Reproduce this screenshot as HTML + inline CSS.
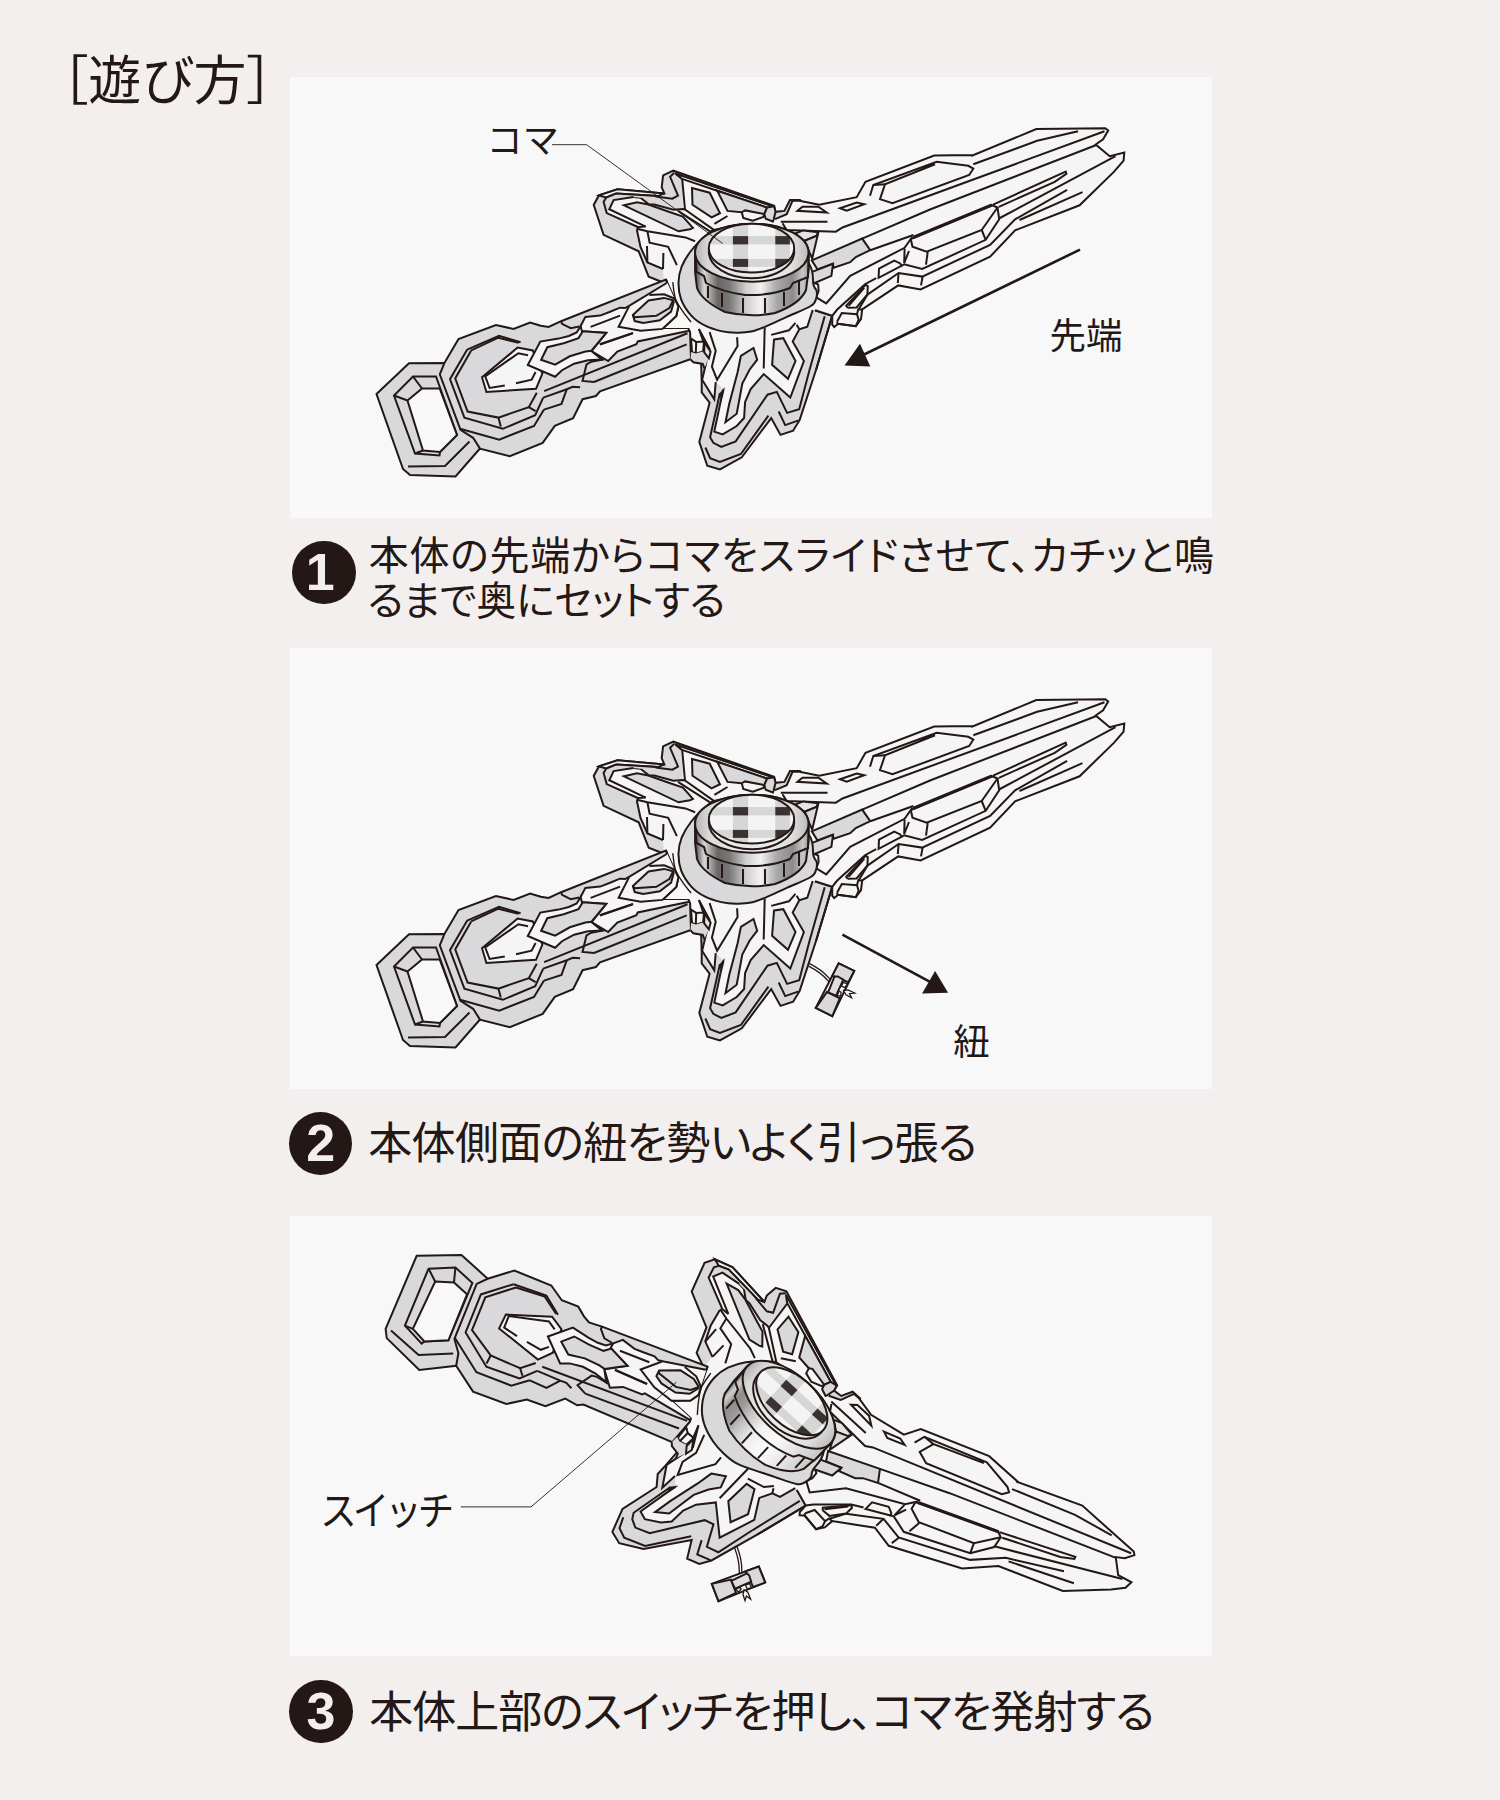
<!DOCTYPE html><html lang="ja"><head><meta charset="utf-8"><title>遊び方</title><style>
html,body{margin:0;padding:0;}
body{width:1500px;height:1800px;background:#f3efee;position:relative;overflow:hidden;
 font-family:"Liberation Sans","Noto Sans CJK JP",sans-serif;color:#231815;}
.panel{position:absolute;left:290px;width:922px;height:441px;background:#f8f8f8;}
#p1{top:77px}#p2{top:648px}#p3{top:1216px;height:440px}
svg{position:absolute;left:0;top:0;}
.t{position:absolute;white-space:nowrap;font-feature-settings:"palt";}
.title{left:61.3px;top:55.2px;font-size:53px;line-height:53px;letter-spacing:0.5px}
.num{position:absolute;width:63.4px;height:63.4px;border-radius:50%;background:#231815;color:#f3efee;
 font-family:"Liberation Sans",sans-serif;font-weight:bold;font-size:52px;line-height:63.4px;text-align:center;}
.c1{left:370.8px;font-size:40px;line-height:40px;}
.c2{left:370.5px;font-size:44px;line-height:44px;}
</style></head><body>
<div class="panel" id="p1"></div><div class="panel" id="p2"></div><div class="panel" id="p3"></div>
<div class="t title">［遊び方］</div>
<svg width="1500" height="1800" viewBox="0 0 1500 1800" stroke-linejoin="miter" stroke-linecap="butt">
<defs><g id="sword"><polygon points="662.1,282.0 648.7,276.8 638.7,251.3 603.6,234.8 593.7,204.9 598.9,195.4 617.5,189.3 664.3,193.4 661.7,187.1 663.1,175.4 673.3,170.7 774.1,205.7 775.5,211.8 784.4,210.9 790.0,200.1 800.0,200.0 850.0,260.0 832.2,315.8 816.0,370.0 799.7,419.9 793.1,430.7 780.5,434.9 771.2,418.1 741.8,457.3 719.9,469.4 707.3,465.7 699.3,441.9 709.6,402.7 701.7,392.4 701.7,381.6 701.2,363.9 708.7,358.3 704.0,343.3 698.9,328.9 684.0,318.0 670.0,298.0" fill="#d9d9db" stroke="none" stroke-width="2.0"/>
<polyline points="662.1,282.0 648.7,276.8 638.7,251.3 603.6,234.8 593.7,204.9 598.9,195.4 617.5,189.3 664.3,193.4 661.7,187.1 663.1,175.4 673.3,170.7 774.1,205.7 775.5,211.8 784.4,210.9 790.0,200.1 800.0,200.0 850.0,260.0 832.2,315.8 816.0,370.0 799.7,419.9 793.1,430.7 780.5,434.9 771.2,418.1 741.8,457.3 719.9,469.4 707.3,465.7 699.3,441.9 709.6,402.7 701.7,392.4 701.7,381.6 701.2,363.9 708.7,358.3 704.0,343.3 698.9,328.9" fill="none" stroke="#231815" stroke-width="2.0"/>
<polygon points="663.0,269.0 647.4,262.5 640.5,246.9 637.0,230.5 637.9,227.0 606.7,213.1 609.3,209.2 613.6,200.1 633.5,197.1 640.5,197.7 649.1,204.5 654.3,204.5 673.4,209.7 682.9,209.0 682.2,179.1 675.2,173.5 773.7,206.7 773.2,221.6 785.3,219.7 800.0,215.0 840.0,262.0 815.0,310.2 812.7,310.0 807.3,326.7 799.3,329.3 792.7,341.5 803.9,361.1 790.3,397.5 763.7,374.1 750.7,389.1 745.1,402.1 744.1,418.0 736.7,426.0 722.7,434.4 714.3,431.6 720.8,400.8 723.6,389.6 715.7,382.1 714.3,399.3 702.1,379.7 709.6,348.9 698.9,328.9 684.0,318.0 670.0,298.0 664.0,284.0" fill="#f5f5f5" stroke="none" stroke-width="2.0"/>
<polyline points="663.0,269.0 647.4,262.5 640.5,246.9 637.0,230.5 637.9,227.0" fill="none" stroke="#231815" stroke-width="2.0"/>
<polyline points="633.5,197.1 640.5,197.7 649.1,204.5 654.3,204.5 673.4,209.7 682.9,209.0 685.0,209.5 682.2,179.1 675.2,173.5 773.7,206.7" fill="none" stroke="#231815" stroke-width="2.0"/>
<polyline points="773.2,221.6 785.3,219.7" fill="none" stroke="#231815" stroke-width="2.0"/>
<polyline points="812.7,310.0 807.3,326.7 799.3,329.3 792.7,341.5 803.9,361.1 790.3,397.5 763.7,374.1 750.7,389.1 745.1,402.1 744.1,418.0 736.7,426.0 722.7,434.4 714.3,431.6 720.8,400.8 723.6,389.6" fill="none" stroke="#231815" stroke-width="2.0"/>
<polyline points="715.7,382.1 714.3,399.3 702.1,379.7 709.6,348.9 698.9,328.9" fill="none" stroke="#231815" stroke-width="2.0"/>
<polygon points="617.5,189.3 664.3,193.4 657.8,196.1 616.2,193.6 606.2,197.5 598.9,195.4" fill="#f5f5f5" stroke="#231815" stroke-width="2.0"/>
<polygon points="657.8,196.1 616.2,193.6 606.2,197.5 603.6,201.9 606.7,213.1 609.3,209.2 613.6,200.1 633.5,197.1 640.5,197.7" fill="#d9d9db" stroke="none" stroke-width="2.0"/>
<polyline points="657.8,196.1 616.2,193.6 606.2,197.5 603.6,201.9 606.7,213.1 637.9,227.0" fill="none" stroke="#231815" stroke-width="2.0"/>
<polyline points="633.5,197.1 613.6,200.1 609.3,209.2 645.7,226.6 637.9,227.0" fill="none" stroke="#231815" stroke-width="2.0"/>
<polygon points="624.0,205.3 637.0,202.3 648.3,204.5 671.7,212.7 682.9,216.6 692.9,227.9 689.9,229.2 678.6,231.3" fill="#d9d9db" stroke="#231815" stroke-width="2.0"/>
<polyline points="637.0,228.7 647.4,231.3 685.5,237.4 695.1,241.3" fill="none" stroke="#231815" stroke-width="2.0"/>
<polyline points="647.4,231.3 649.6,242.6 668.2,246.9 676.9,265.1" fill="none" stroke="#231815" stroke-width="2.0"/>
<polyline points="647.0,246.1 647.4,262.5" fill="none" stroke="#231815" stroke-width="2.0"/>
<polyline points="663.4,253.0 663.0,269.0" fill="none" stroke="#231815" stroke-width="2.0"/>
<polyline points="674.3,172.6 670.1,176.8 678.0,195.5 672.4,198.7 655.6,196.4" fill="none" stroke="#231815" stroke-width="2.0"/>
<polyline points="682.7,179.1 717.2,190.8 767.1,207.6" fill="none" stroke="#231815" stroke-width="2.0"/>
<polyline points="678.0,210.9 713.5,233.7" fill="none" stroke="#231815" stroke-width="2.0"/>
<polyline points="685.0,209.5 715.3,230.9" fill="none" stroke="#231815" stroke-width="2.0"/>
<polygon points="692.0,188.0 709.7,192.7 720.0,213.2 711.6,217.4 692.5,204.8" fill="#d9d9db" stroke="#231815" stroke-width="2.0"/>
<polygon points="717.2,190.8 767.1,207.6 764.3,214.1 745.2,210.4 741.5,212.3 727.5,210.9" fill="#d9d9db" stroke="#231815" stroke-width="2.0"/>
<polygon points="767.1,207.6 774.1,206.2 775.5,211.8 773.2,221.6 765.7,218.8 764.3,214.1" fill="#d9d9db" stroke="#231815" stroke-width="2.0"/>
<polyline points="741.9,212.7 743.3,217.9 752.7,220.7 763.4,216.9 764.3,214.1" fill="none" stroke="#231815" stroke-width="2.0"/>
<polyline points="727.5,216.0 714.4,223.9" fill="none" stroke="#231815" stroke-width="2.0"/>
<polyline points="719.9,393.3 710.1,437.2 713.3,442.8 721.3,447.0 735.7,441.4 767.5,394.7 776.8,391.9 787.1,412.9 799.2,409.2 809.5,370.0" fill="none" stroke="#231815" stroke-width="2.0"/>
<polyline points="809.5,370.0 824.7,316.3" fill="none" stroke="#231815" stroke-width="2.0"/>
<polyline points="705.4,447.5 710.1,458.2 719.9,461.9 740.9,454.0 768.4,415.7" fill="none" stroke="#231815" stroke-width="2.0"/>
<polyline points="778.7,411.5 785.2,425.1 798.7,420.4" fill="none" stroke="#231815" stroke-width="2.0"/>
<polygon points="774.0,339.6 783.3,338.2 795.5,361.1 788.0,378.8 772.1,364.8" fill="#d9d9db" stroke="#231815" stroke-width="2.0"/>
<polygon points="740.9,355.9 753.5,348.0 757.2,359.7 749.7,369.5 742.3,383.5 736.7,413.8 725.5,422.2 729.2,404.0 737.6,372.3" fill="#d9d9db" stroke="#231815" stroke-width="2.0"/>
<polyline points="764.7,327.5 763.7,368.5" fill="none" stroke="#231815" stroke-width="2.0"/>
<polyline points="709.6,332.1 715.7,350.8 711.9,366.7 717.1,379.7 737.6,346.1 737.1,337.3" fill="none" stroke="#231815" stroke-width="2.0"/>
<polyline points="771.2,334.9 788.9,330.3 795.5,322.8" fill="none" stroke="#231815" stroke-width="2.0"/>
<polyline points="799.3,329.3 796.7,324.7" fill="none" stroke="#231815" stroke-width="2.0"/>
<polyline points="816.0,370.0 832.2,315.8 815.0,310.2" fill="none" stroke="#231815" stroke-width="2.0"/>
<polygon points="724.5,387.7 719.4,393.8 721.3,400.8 722.2,394.3" fill="#231815" stroke="#231815" stroke-width="0.5"/><polygon points="770.0,230.0 775.0,219.2 786.7,214.2 792.5,200.8 798.3,200.5 819.2,204.7 856.7,197.2 865.5,181.7 934.2,155.5 972.5,155.0 972.5,155.5 1036.3,129.1 1105.3,128.3 1108.2,130.5 1103.1,139.3 1095.7,144.5 1109.7,156.2 1124.3,152.5 1123.6,160.6 1114.1,171.6 1079.6,205.3 1015.1,230.3 990.1,256.7 920.6,289.4 898.2,285.4 862.2,309.4 861.0,319.0 855.8,326.2 838.2,323.8 834.2,327.0 832.2,324.6 832.2,315.8 815.0,310.2 790.0,290.0" fill="#f5f5f5" stroke="none" stroke-width="2.0"/>
<polyline points="775.0,219.2 786.7,214.2 792.5,200.8 798.3,200.5 819.2,204.7 856.7,197.2 865.5,181.7 934.2,155.5 972.5,155.0 972.5,155.5 1036.3,129.1 1105.3,128.3 1108.2,130.5 1103.1,139.3 1095.7,144.5 1109.7,156.2 1124.3,152.5 1123.6,160.6 1114.1,171.6 1079.6,205.3 1015.1,230.3 990.1,256.7 920.6,289.4 898.2,285.4 862.2,309.4 861.0,319.0 855.8,326.2 838.2,323.8 834.2,327.0 832.2,324.6 832.2,315.8 815.0,310.2" fill="none" stroke="#231815" stroke-width="2.0"/>
<polygon points="797.5,210.8 802.5,206.7 818.3,206.7 826.7,212.5" fill="#f5f5f5" stroke="#231815" stroke-width="2.0"/>
<polyline points="780.8,221.7 827.5,221.7" fill="none" stroke="#231815" stroke-width="2.0"/>
<polygon points="840.0,208.3 856.7,202.5 864.2,204.2 846.7,210.8" fill="#f5f5f5" stroke="#231815" stroke-width="2.0"/>
<polyline points="870.0,195.8 873.3,185.0 936.7,161.7 968.3,165.8 973.3,168.7 969.2,175.0 892.5,203.3 880.0,199.2 885.0,184.2 935.0,164.2" fill="none" stroke="#231815" stroke-width="2.0"/>
<polyline points="873.3,185.0 885.0,184.2" fill="none" stroke="#231815" stroke-width="2.0"/>
<polyline points="782.5,223.3 786.7,230.0 835.8,231.7 842.5,227.5 1104.5,131.3" fill="none" stroke="#231815" stroke-width="2.0"/>
<polygon points="794.5,233.7 803.3,230.4 818.3,232.3 816.4,236.0 804.7,240.7" fill="#e4e4e5" stroke="#231815" stroke-width="2.0"/>
<polygon points="804.7,240.7 816.4,236.0 818.3,232.7 812.2,258.4 808.0,249.5" fill="#d9d9db" stroke="#231815" stroke-width="2.0"/>
<polygon points="811.8,260.4 862.2,238.6 870.2,250.2 855.8,257.0 850.2,262.2 833.8,267.8 832.6,263.8 817.4,269.4" fill="#d9d9db" stroke="#231815" stroke-width="2.0"/>
<polygon points="810.2,272.6 833.0,263.8 831.4,275.8 811.8,284.2" fill="#d9d9db" stroke="#231815" stroke-width="2.0"/>
<polyline points="862.2,238.6 930.0,209.5 1095.7,145.2" fill="none" stroke="#231815" stroke-width="2.0"/>
<polyline points="870.2,250.2 913.4,235.0" fill="none" stroke="#231815" stroke-width="2.0"/>
<polyline points="815.0,283.0 818.2,284.6 818.6,291.0 816.2,297.4 826.2,303.4 850.2,275.8 904.6,247.8 912.2,237.0" fill="none" stroke="#231815" stroke-width="2.0"/>
<polyline points="904.6,248.6 904.2,263.0 909.0,251.0" fill="none" stroke="#231815" stroke-width="2.0"/>
<polyline points="832.2,315.8 837.0,309.8 865.0,284.2 876.2,278.2" fill="none" stroke="#231815" stroke-width="2.0"/>
<polygon points="878.6,277.8 879.0,268.6 894.2,260.6 900.2,263.4 901.4,265.8" fill="#f5f5f5" stroke="#231815" stroke-width="2.0"/>
<polyline points="847.8,307.8 846.2,305.8 865.8,284.6 867.8,286.2 867.4,294.6 858.6,309.4" fill="none" stroke="#231815" stroke-width="2.0"/>
<polyline points="847.8,307.8 856.6,307.4 866.2,295.8 867.4,294.6" fill="none" stroke="#231815" stroke-width="2.0"/>
<polyline points="848.6,305.8 864.2,287.8" fill="none" stroke="#231815" stroke-width="2.0"/>
<polyline points="837.0,321.8 841.8,313.0 857.0,314.2 858.6,319.8 855.8,326.2 837.8,323.8 837.0,321.8" fill="none" stroke="#231815" stroke-width="2.0"/>
<polyline points="857.0,314.2 858.2,309.4 862.2,309.4" fill="none" stroke="#231815" stroke-width="2.0"/>
<polyline points="867.4,294.6 898.6,273.0 922.2,276.6 990.1,244.9 1015.1,219.3 1067.1,189.9" fill="none" stroke="#231815" stroke-width="2.0"/>
<polyline points="898.6,273.0 897.8,283.0" fill="none" stroke="#231815" stroke-width="2.0"/>
<polyline points="922.6,276.6 921.0,285.4" fill="none" stroke="#231815" stroke-width="2.0"/>
<polyline points="910.8,239.2 991.7,205.0 997.5,207.5 981.7,230.0 926.7,251.7 912.5,246.7 910.8,239.2" fill="none" stroke="#231815" stroke-width="2.0"/>
<polyline points="927.7,252.0 926.0,264.7" fill="none" stroke="#231815" stroke-width="2.0"/>
<polyline points="981.7,230.0 985.7,239.8" fill="none" stroke="#231815" stroke-width="2.0"/>
<polyline points="901.4,265.8 904.2,264.2 922.2,269.0 985.7,239.8 999.2,219.2 997.5,207.5" fill="none" stroke="#231815" stroke-width="2.0"/>
<polyline points="913.0,237.6 992.0,205.0" fill="none" stroke="#231815" stroke-width="3.2"/>
<polyline points="973.3,164.3 1037.1,140.8 1078.1,131.3" fill="none" stroke="#231815" stroke-width="2.0"/>
<polyline points="993.1,204.6 1065.7,171.6 1066.4,173.8 1054.7,181.9 998.9,206.8" fill="none" stroke="#231815" stroke-width="2.0"/>
<polyline points="998.9,218.5 1115.5,156.2" fill="none" stroke="#231815" stroke-width="2.0"/>
<polyline points="1019.5,220.0 1082.5,192.1" fill="none" stroke="#231815" stroke-width="2.0"/><polygon points="376.5,394.0 409.0,363.2 444.5,363.0 460.5,400.0 480.0,448.5 455.5,476.5 410.0,475.0 403.0,469.0" fill="#d9d9db" stroke="#231815" stroke-width="2.0"/>
<polyline points="408.0,466.5 445.0,466.0 469.5,441.5" fill="none" stroke="#231815" stroke-width="2.0"/>
<polygon points="394.0,395.5 413.0,376.5 436.0,376.5 457.0,435.0 440.0,452.0 439.5,455.5 415.0,453.5" fill="#d9d9db" stroke="#231815" stroke-width="2.0"/>
<polygon points="407.5,400.5 422.0,388.5 439.7,388.5 457.0,435.0 440.0,452.0 423.0,450.5" fill="#f8f8f8" stroke="#231815" stroke-width="2.0"/>
<polyline points="413.0,376.5 422.0,388.5" fill="none" stroke="#231815" stroke-width="2.0"/>
<polyline points="394.0,395.5 407.5,400.5" fill="none" stroke="#231815" stroke-width="2.0"/>
<polyline points="415.0,453.5 423.0,450.5" fill="none" stroke="#231815" stroke-width="2.0"/>
<polygon points="444.4,363.1 458.5,339.0 495.9,325.1 513.6,328.9 530.1,322.5 540.8,325.8 548.6,326.9 561.1,321.2 665.9,279.5 667.4,283.0 674.5,298.6 678.4,306.4 676.3,315.9 662.4,328.9 688.4,328.9 690.1,332.4 691.0,359.3 690.1,359.3 600.0,391.3 595.9,396.0 582.6,399.2 573.1,418.2 554.8,425.8 542.7,442.9 509.8,456.2 480.0,448.6 473.1,437.8 460.5,429.9 439.8,374.3" fill="#d9d9db" stroke="#231815" stroke-width="2.0"/>
<polyline points="460.0,428.8 499.2,439.6 534.0,426.0 544.0,409.6" fill="none" stroke="#231815" stroke-width="2.0"/>
<polyline points="544.0,409.6 561.5,403.9 566.8,389.2" fill="none" stroke="#231815" stroke-width="2.0"/>
<polyline points="520.6,342.2 499.0,335.8 467.2,349.6" fill="none" stroke="#231815" stroke-width="2.0"/>
<polyline points="467.2,349.6 450.0,379.2 464.4,417.6 502.8,428.8 535.2,415.2 543.2,397.6" fill="none" stroke="#231815" stroke-width="2.0"/>
<polyline points="543.2,397.6 566.8,389.2 572.7,386.8 580.1,387.3" fill="none" stroke="#231815" stroke-width="2.0"/>
<polyline points="518.7,342.8 498.4,337.7 471.2,350.4" fill="none" stroke="#231815" stroke-width="2.0"/>
<polyline points="471.2,350.4 455.2,378.4 467.6,411.6 498.4,417.6 528.8,407.2 536.8,392.8" fill="none" stroke="#231815" stroke-width="2.0"/>
<polyline points="498.4,417.6 500.8,426.4" fill="none" stroke="#231815" stroke-width="2.0"/>
<polyline points="528.8,407.2 535.6,411.2" fill="none" stroke="#231815" stroke-width="2.0"/>
<polygon points="482.0,377.2 517.6,347.6 532.8,350.4 542.4,373.6 536.0,388.8 486.4,392.0" fill="#f5f5f5" stroke="#231815" stroke-width="2.0"/>
<polyline points="528.0,355.2 518.4,353.2 485.2,376.4 489.6,388.0 504.8,385.6" fill="none" stroke="#231815" stroke-width="2.0"/>
<polyline points="516.0,383.2 531.6,379.6 535.6,372.0" fill="none" stroke="#231815" stroke-width="2.0"/>
<polyline points="544.1,391.1 687.5,333.3" fill="none" stroke="#231815" stroke-width="2.0"/>
<polyline points="604.1,359.3 591.3,361.7 586.5,364.4 582.5,380.9 594.0,382.0" fill="none" stroke="#231815" stroke-width="2.0"/>
<polyline points="594.0,382.0 686.7,344.4" fill="none" stroke="#231815" stroke-width="2.0"/>
<polygon points="580.6,326.0 585.4,316.9 600.1,315.6 609.5,312.0 619.9,307.7 625.1,308.1 630.3,305.1 666.7,283.0 667.4,283.0 674.5,298.6 678.4,306.4 676.3,315.9 662.4,328.9 688.4,328.9 689.3,330.7 637.7,341.5 636.4,344.1 617.3,351.5 608.2,361.0 591.5,351.1 606.2,332.9 581.9,331.2" fill="#f5f5f5" stroke="none" stroke-width="2.0"/>
<polyline points="580.6,326.0 585.4,316.9 600.1,315.6 609.5,312.0 619.9,307.7 625.1,308.1 630.3,305.1 666.7,283.0" fill="none" stroke="#231815" stroke-width="2.0"/>
<polyline points="688.4,328.9 689.3,330.7 637.7,341.5 636.4,344.1 617.3,351.5 608.2,361.0 591.5,351.1" fill="none" stroke="#231815" stroke-width="2.0"/>
<polyline points="665.9,279.5 667.4,283.0" fill="none" stroke="#231815" stroke-width="2.0"/>
<polyline points="561.1,321.2 562.0,323.8 570.7,328.2 579.3,326.4" fill="none" stroke="#231815" stroke-width="2.0"/>
<polygon points="527.8,365.0 540.3,341.6 558.5,338.6 568.9,336.0 576.7,332.5 580.6,326.0 581.9,331.2 606.2,332.9 591.5,351.1 601.9,359.4 588.0,360.2 574.1,363.7 562.0,370.2 555.1,376.7" fill="#f5f5f5" stroke="#231815" stroke-width="2.0"/>
<polygon points="541.2,359.8 547.3,347.2 563.7,343.3 578.5,338.1 582.8,331.2 606.2,332.9 591.5,350.7 585.4,351.6 569.8,356.3 555.1,364.6" fill="#d9d9db" stroke="#231815" stroke-width="2.0"/>
<polyline points="590.6,326.9 620.1,315.6" fill="none" stroke="#231815" stroke-width="2.0"/>
<polyline points="599.7,344.2 633.1,332.9" fill="none" stroke="#231815" stroke-width="2.0"/>
<polyline points="600.0,344.5 632.9,333.3" fill="none" stroke="#231815" stroke-width="2.0"/>
<polyline points="629.0,306.4 618.6,326.8 640.7,330.7 662.4,328.9 676.3,315.9 678.4,306.4 674.5,298.6 664.1,294.3 649.4,295.1" fill="none" stroke="#231815" stroke-width="2.0"/>
<polygon points="632.9,315.1 648.5,300.5 664.1,297.9 673.2,300.3 673.7,302.1 671.1,311.6 659.8,320.3 643.3,323.0 634.7,321.1" fill="#d9d9db" stroke="#231815" stroke-width="2.0"/>
<polyline points="673.2,300.3 669.3,308.1 656.3,315.8 634.7,317.2 632.9,315.1" fill="none" stroke="#231815" stroke-width="2.0"/>
<polygon points="691.0,338.5 696.2,341.9 704.0,341.5 703.1,351.5 695.8,353.6 692.0,351.9" fill="#f5f5f5" stroke="#231815" stroke-width="2.0"/>
<polyline points="696.2,341.9 695.8,353.6" fill="none" stroke="#231815" stroke-width="2.0"/>
<polygon points="691.0,352.0 695.8,353.6 703.1,351.5 708.7,358.3 704.4,368.3 702.8,363.9 693.3,362.2 690.6,359.4" fill="#d9d9db" stroke="none" stroke-width="2.0"/>
<polyline points="704.4,368.3 702.8,363.9 693.3,362.2 690.6,359.4" fill="none" stroke="#231815" stroke-width="2.0"/>
<polygon points="704.4,342.2 710.6,351.7 708.9,358.3 704.2,352.3" fill="#e6e6e7" stroke="#231815" stroke-width="2.0"/><path d="M721.2,228.7 C709.3,229.6 710.2,233.0 705.2,236.7 C700.2,240.3 695.2,245.6 691.3,250.5 C687.4,255.5 683.9,261.2 681.7,266.5 C679.6,271.9 678.6,277.0 678.5,282.5 C678.4,288.0 679.1,294.1 681.2,299.6 C683.3,305.1 687.3,311.2 691.3,315.6 C695.3,320.0 700.2,323.2 705.2,325.7 C710.2,328.3 716.0,329.9 721.2,331.1 C726.4,332.2 731.2,332.6 736.1,332.7 C741.1,332.8 746.1,332.7 751.1,331.6 C756.0,330.5 760.0,328.8 766.0,326.3 C772.0,323.8 779.9,320.0 787.3,316.7 C794.8,313.3 806.0,309.0 810.8,306.0 C815.6,303.0 815.2,301.0 816.1,298.5 C817.1,296.0 817.1,293.4 816.7,291.1 C816.2,288.8 814.8,289.3 813.5,284.7 C812.1,280.0 814.8,272.2 808.7,263.3 C802.5,254.4 791.2,237.1 776.7,231.3 C762.1,225.6 733.1,227.8 721.2,228.7 Z" fill="#d9d9db" stroke="#231815" stroke-width="2.0"/>
<path d="M672.8,282.1 C673.2,284.9 673.8,293.8 675.4,298.6 C677.1,303.5 680.2,307.4 682.8,311.3 C685.4,315.2 689.6,320.2 691.0,322.0" fill="none" stroke="#231815" stroke-width="1.4"/></g><g id="koma1"><defs><linearGradient id="cyla" x1="0" x2="1" y1="0" y2="0"><stop offset="0" stop-color="#4a4544"/><stop offset="0.08" stop-color="#d8d8d8"/><stop offset="0.2" stop-color="#6a6665"/><stop offset="0.3" stop-color="#777"/><stop offset="0.45" stop-color="#cfcfcf"/><stop offset="0.58" stop-color="#f2f2f2"/><stop offset="0.72" stop-color="#a8a8a8"/><stop offset="0.86" stop-color="#8c8a8a"/><stop offset="0.95" stop-color="#c8c8c8"/><stop offset="1" stop-color="#999"/></linearGradient><linearGradient id="chama" x1="0" x2="1" y1="0" y2="0"><stop offset="0" stop-color="#b4b4b4"/><stop offset="0.12" stop-color="#d9d9d9"/><stop offset="0.5" stop-color="#f4f4f4"/><stop offset="0.85" stop-color="#e0e0e0"/><stop offset="1" stop-color="#bcbcbc"/></linearGradient><clipPath id="topca"><ellipse cx="751.5" cy="248.2" rx="42.7" ry="24.4"/></clipPath></defs>
<path d="M695.1,254 L695.1,272 L697,288 Q702,301 725,312 Q750,318 775,313 Q800,304 806,290 L808.6,270 L808.6,252 Z" fill="url(#cyla)" stroke="#231815" stroke-width="2.0"/>
<path d="M695.1,254 L696.5,272 L704,276 L706,283 Q722,292 745,295 Q770,296 790,288 L793,283 L808,277 L808.6,252 A56.7,29 0 0 0 695.1,254 Z" fill="url(#cyla)" stroke="#231815" stroke-width="2.0"/>
<ellipse cx="751.8" cy="252.7" rx="56.7" ry="29" fill="url(#chama)" stroke="#231815" stroke-width="2.0"/>
<ellipse cx="751.5" cy="251.5" rx="42.7" ry="26.8" fill="#e9e9e9" stroke="#231815" stroke-width="2.0"/>
<g clip-path="url(#topca)"><rect x="700" y="220" width="100" height="60" fill="#f4f4f4"/><rect x="732.9" y="220" width="15.2" height="60" fill="#d6d6d6"/><rect x="775.3" y="220" width="14.6" height="60" fill="#d6d6d6"/><rect x="700" y="236.1" width="100" height="8.3" fill="#d6d6d6"/><rect x="700" y="258.9" width="100" height="8" fill="#d6d6d6"/><rect x="732.9" y="236.1" width="15.2" height="8.3" fill="#3a3231"/><rect x="775.3" y="236.1" width="14.6" height="8.3" fill="#3a3231"/><rect x="732.9" y="258.9" width="15.2" height="8" fill="#3a3231"/><rect x="775.3" y="258.9" width="14.6" height="8" fill="#3a3231"/></g>
<ellipse cx="751.5" cy="248.2" rx="42.7" ry="24.4" fill="none" stroke="#231815" stroke-width="2.0"/>
<line x1="708" y1="286" x2="708" y2="298" stroke="#231815" stroke-width="2.0"/>
<line x1="722" y1="293" x2="722" y2="307" stroke="#231815" stroke-width="2.0"/>
<line x1="743" y1="298" x2="743" y2="313" stroke="#231815" stroke-width="2.0"/>
<line x1="765" y1="298" x2="765" y2="313" stroke="#231815" stroke-width="2.0"/>
<line x1="784" y1="292" x2="784" y2="306" stroke="#231815" stroke-width="2.0"/>
<line x1="799" y1="281" x2="799" y2="295" stroke="#231815" stroke-width="2.0"/></g><g id="koma3"><defs><linearGradient id="cylb" x1="0" x2="1" y1="0" y2="0"><stop offset="0" stop-color="#7d7a79"/><stop offset="0.05" stop-color="#cfcfcf"/><stop offset="0.12" stop-color="#8f8d8c"/><stop offset="0.2" stop-color="#9a9898"/><stop offset="0.3" stop-color="#c2c2c2"/><stop offset="0.45" stop-color="#f0f0f0"/><stop offset="0.62" stop-color="#fbfbfb"/><stop offset="0.82" stop-color="#e2e2e2"/><stop offset="1" stop-color="#c6c6c6"/></linearGradient><linearGradient id="chamb" x1="0" x2="1" y1="0" y2="0"><stop offset="0" stop-color="#b4b4b4"/><stop offset="0.12" stop-color="#d9d9d9"/><stop offset="0.5" stop-color="#f4f4f4"/><stop offset="0.85" stop-color="#e0e0e0"/><stop offset="1" stop-color="#bcbcbc"/></linearGradient><clipPath id="topcb"><ellipse cx="751.5" cy="248.2" rx="42.7" ry="24.4"/></clipPath></defs>
<path d="M695.1,254 L695.1,272 L697,288 Q702,301 725,312 Q750,318 775,313 Q800,304 806,290 L808.6,270 L808.6,252 Z" fill="url(#cylb)" stroke="#231815" stroke-width="2.0"/>
<path d="M695.1,254 L696.5,272 L704,276 L706,283 Q722,292 745,295 Q770,296 790,288 L793,283 L808,277 L808.6,252 A56.7,29 0 0 0 695.1,254 Z" fill="url(#cylb)" stroke="#231815" stroke-width="2.0"/>
<ellipse cx="751.8" cy="252.7" rx="56.7" ry="29" fill="url(#chamb)" stroke="#231815" stroke-width="2.0"/>
<ellipse cx="751.5" cy="251.5" rx="42.7" ry="26.8" fill="#e9e9e9" stroke="#231815" stroke-width="2.0"/>
<g clip-path="url(#topcb)"><rect x="700" y="220" width="100" height="60" fill="#f4f4f4"/><rect x="732.9" y="220" width="15.2" height="60" fill="#d6d6d6"/><rect x="775.3" y="220" width="14.6" height="60" fill="#d6d6d6"/><rect x="700" y="236.1" width="100" height="8.3" fill="#d6d6d6"/><rect x="700" y="258.9" width="100" height="8" fill="#d6d6d6"/><rect x="732.9" y="236.1" width="15.2" height="8.3" fill="#3a3231"/><rect x="775.3" y="236.1" width="14.6" height="8.3" fill="#3a3231"/><rect x="732.9" y="258.9" width="15.2" height="8" fill="#3a3231"/><rect x="775.3" y="258.9" width="14.6" height="8" fill="#3a3231"/></g>
<ellipse cx="751.5" cy="248.2" rx="42.7" ry="24.4" fill="none" stroke="#231815" stroke-width="2.0"/>
<line x1="708" y1="286" x2="708" y2="298" stroke="#231815" stroke-width="2.0"/>
<line x1="722" y1="293" x2="722" y2="307" stroke="#231815" stroke-width="2.0"/>
<line x1="743" y1="298" x2="743" y2="313" stroke="#231815" stroke-width="2.0"/>
<line x1="765" y1="298" x2="765" y2="313" stroke="#231815" stroke-width="2.0"/>
<line x1="784" y1="292" x2="784" y2="306" stroke="#231815" stroke-width="2.0"/>
<line x1="799" y1="281" x2="799" y2="295" stroke="#231815" stroke-width="2.0"/></g><g id="tag"><path d="M809.1,392.4 Q821.7,398.6 829.1,407.1 L832.3,411.3" fill="none" stroke="#231815" stroke-width="1.3"/>
<path d="M808.6,395.1 Q820.6,401.3 827,408.7 L831.3,412.4" fill="none" stroke="#231815" stroke-width="1.3"/>
<polygon points="838.7,392.4 854.2,399.9 832.3,445.2 815.8,436.9" fill="#f6f6f6" stroke="#231815" stroke-width="2.0"/>
<polygon points="838.7,392.4 854.2,399.9 848.3,411.3 832.3,404.9" fill="#d9d9db" stroke="#231815" stroke-width="2.0"/>
<polygon points="827.0,420.9 839.8,427.3 832.3,445.2 815.8,436.9" fill="#d9d9db" stroke="#231815" stroke-width="2.0"/>
<polygon points="843.3,411.3 847.3,412.9 845.1,416.7 841.4,415.1" fill="#f6f6f6" stroke="#231815" stroke-width="1.3"/>
<polygon points="838.7,420.4 840.9,420.9 840.9,425.2 837.1,424.7" fill="#f6f6f6" stroke="#231815" stroke-width="1.3"/>
<path d="M843.5,419.5 L848,418.8 L854.7,422 L849.5,422.6 L851.5,426.8 L846,423.8 Z" fill="#f6f6f6" stroke="#231815" stroke-width="1.3"/>
<polygon points="834.5,405.5 837.7,405.5 843.3,408.7 836.1,424.7 828.1,421.5" fill="#dedee0" stroke="#231815" stroke-width="2.0"/></g></defs>
<use href="#sword"/><use href="#koma1"/>
<g transform="translate(0 571)"><use href="#tag"/><use href="#sword"/><use href="#koma1"/></g>
<g transform="translate(404.8 710.9) rotate(42.45)"><use href="#tag"/><use href="#sword"/><use href="#koma3"/></g>
<text transform="translate(486.6 153.2) scale(0.99 0.97)" font-family="&quot;Liberation Sans&quot;,&quot;Noto Sans CJK JP&quot;,sans-serif" font-size="36.5" fill="#231815">コマ</text>
<polyline points="552,144.7 586.6,144.7 722.7,243.5" fill="none" stroke="#231815" stroke-width="0.9"/>
<text x="1049.6" y="348.6" font-family="&quot;Liberation Sans&quot;,&quot;Noto Sans CJK JP&quot;,sans-serif" font-size="36.5" fill="#231815">先端</text>
<line x1="1080" y1="249.6" x2="862" y2="355.5" stroke="#231815" stroke-width="2.6"/>
<polygon points="844.5,365.4 860,343.7 870.3,366.4" fill="#231815"/>
<text x="953.2" y="1055.3" font-family="&quot;Liberation Sans&quot;,&quot;Noto Sans CJK JP&quot;,sans-serif" font-size="36.5" fill="#231815">紐</text>
<line x1="842.4" y1="934.7" x2="930" y2="981.9" stroke="#231815" stroke-width="2.6"/>
<polygon points="922.1,993.6 935.1,971.1 948.1,992.7" fill="#231815"/>
<text transform="translate(320.3 1524.8) scale(1 1.08)" letter-spacing="-4" font-family="&quot;Liberation Sans&quot;,&quot;Noto Sans CJK JP&quot;,sans-serif" font-size="36.5" fill="#231815">スイッチ</text>
<polyline points="460.8,1506.9 531,1506.9 676.6,1382.1" fill="none" stroke="#231815" stroke-width="0.9"/>
</svg>
<div class="num" style="left:292.3px;top:541px;box-sizing:border-box;padding-right:7.6px">1</div>
<div class="t c1" style="left:368.8px;top:535.6px;letter-spacing:0.72px">本体の先端からコマをスライドさせて、カチッと鳴</div>
<div class="t c1" style="left:367.6px;top:580.6px;letter-spacing:-0.3px">るまで奥にセットする</div>
<div class="num" style="left:289px;top:1111.7px">2</div>
<div class="t c2" style="left:368.3px;top:1121.6px;letter-spacing:-0.71px">本体側面の紐を勢いよく引っ張る</div>
<div class="num" style="left:289.3px;top:1679.7px">3</div>
<div class="t c2" style="left:369.3px;top:1691.4px;letter-spacing:-1.0px">本体上部のスイッチを押し、コマを発射する</div>
</body></html>
